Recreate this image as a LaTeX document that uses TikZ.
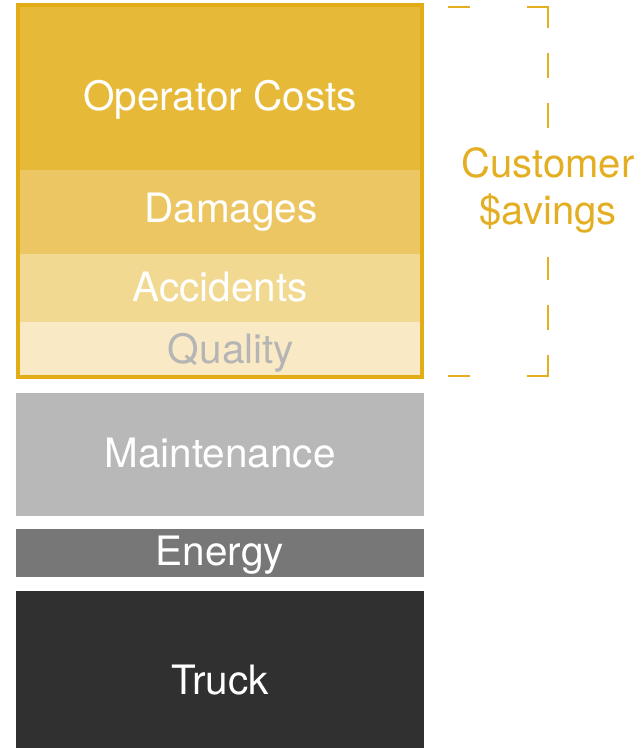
\documentclass[tikz,border=0pt]{standalone}
\usepackage{fontspec}
\setmainfont{TeX Gyre Heros}
\usepackage{tikz}
\usetikzlibrary{positioning,calc}

\definecolor{opcol}{HTML}{E6BA38}
\definecolor{dmgcol}{HTML}{ECC662}
\definecolor{acccol}{HTML}{F2D991}
\definecolor{qualcol}{HTML}{F9EAC5}
\definecolor{framecol}{HTML}{E2AC17}
\definecolor{savecol}{HTML}{E3AE22}
\definecolor{maintcol}{HTML}{B8B8B8}
\definecolor{energycol}{HTML}{777777}
\definecolor{truckcol}{HTML}{303030}
\definecolor{qualtext}{HTML}{B5B5B5}

\begin{document}
\begin{tikzpicture}[
    x=1pt, y=-1pt,
    layer/.style={rectangle, anchor=north west, inner sep=0pt, minimum width=408pt},
    label/.style={anchor=base, inner sep=0pt, text=white, font=\fontsize{40.5}{47}\selectfont},
    bracket/.style={savecol, line width=2pt}
]
\useasboundingbox (0,0) rectangle (642,748);

% cost layers
\node[layer, fill=opcol, minimum height=167pt] (opcost) at (16,3) {};
\node[layer, fill=dmgcol, minimum height=84pt] (damages) at (16,170) {};
\node[layer, fill=acccol, minimum height=68pt] (accidents) at (16,254) {};
\node[layer, fill=qualcol, minimum height=57pt] (quality) at (16,322) {};
\draw[framecol, line width=4pt] (18,5) rectangle (422,376.5);

\node[layer, fill=maintcol, minimum height=123pt] (maint) at (16,393) {};
\node[layer, fill=energycol, minimum height=48pt] (energy) at (16,529) {};
\node[layer, fill=truckcol, minimum height=157pt] (truck) at (16,591) {};

% labels
\node[label] (oplbl) at (220,110) {Operator Costs};
\node[label] (dmglbl) at (231,222) {Damages};
\node[label] (acclbl) at (220,301) {Accidents};
\node[label, text=qualtext] (quallbl) at (231,363) {Quality};
\node[label] (maintlbl) at (220,467) {Maintenance};
\node[label] (energylbl) at (220,565) {Energy};
\node[label] (trucklbl) at (220,694) {Truck};

% savings bracket
\coordinate (brtop) at (548,7);
\coordinate (brbot) at (548,376);
\draw[bracket] (448,7) -- (470,7);
\draw[bracket] (527,7) -- (brtop) -- (548,28);
\draw[bracket, dash pattern=on 25pt off 25pt, dash phase=25pt] (548,28) -- (548,128);
\draw[bracket, dash pattern=on 25pt off 25pt, dash phase=25pt] (548,355) -- (548,257);
\draw[bracket] (548,355) -- (brbot) -- (527,376);
\draw[bracket] (470,376) -- (448,376);
\node[label, text=savecol, align=center, font=\fontsize{40}{47}\selectfont] (savelbl) at (548,224) {Customer\\\$avings};

\end{tikzpicture}
\end{document}
